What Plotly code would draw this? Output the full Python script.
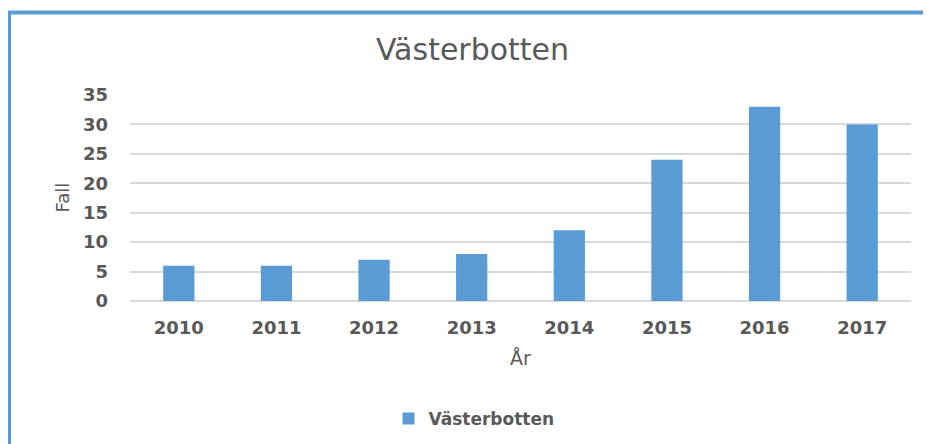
import plotly.graph_objects as go

years = ["2010", "2011", "2012", "2013", "2014", "2015", "2016", "2017"]
fall = [6, 6, 7, 8, 12, 24, 33, 30]
series_name = "Västerbotten"
title_text = "Västerbotten"
y_ticks = [0, 5, 10, 15, 20, 25, 30, 35]

# page body has an 8px margin, so the figure is offset by 8px
OFF = 8
W, H = 931 - OFF, 444 - OFF
L, R, T, B = 122, 20, 87, 143
pw, ph = W - L - R, H - T - B


def px_x(x):  # reference pixel -> paper x
    return (x - OFF - L) / pw


def px_y(y):  # reference pixel -> paper y
    return (H - B - (y - OFF)) / ph


blue = "#5b9bd5"
gray = "#595959"

fig = go.Figure()
fig.add_trace(go.Bar(x=years, y=fall, name=series_name, marker_color=blue,
                     marker_line_width=0))

fig.update_layout(
    width=W, height=H,
    margin=dict(l=L, r=R, t=T, b=B, autoexpand=False),
    paper_bgcolor="white", plot_bgcolor="white",
    bargap=0.68,
    showlegend=True,
    title=dict(text=title_text, x=(472.5 - OFF) / W, xanchor="center",
               y=1 - (49 - OFF) / H, yanchor="middle",
               font=dict(family="DejaVu Sans", size=30, color=gray)),
    legend=dict(orientation="h", x=px_x(474), xanchor="center", y=px_y(419),
                yanchor="middle",
                font=dict(family="DejaVu Sans", size=17, color=gray, weight="bold"),
                itemwidth=30),
    font=dict(family="DejaVu Sans", color=gray),
)

fig.update_yaxes(range=[0, 35], tickvals=y_ticks, showgrid=True, gridcolor="#d9d9d9",
                 gridwidth=2, zeroline=True, zerolinecolor="#d9d9d9", zerolinewidth=2,
                 showline=False, ticklabelstandoff=21,
                 tickfont=dict(family="DejaVu Sans", size=18, color=gray, weight="bold"))
fig.update_xaxes(showgrid=False, showline=False, ticks="", ticklabelstandoff=14,
                 tickfont=dict(family="DejaVu Sans", size=18, color=gray, weight="bold"))

# axis titles
fig.add_annotation(text="Fall", xref="paper", yref="paper", x=px_x(62), y=px_y(197.5),
                   xanchor="center", yanchor="middle", textangle=-90, showarrow=False,
                   font=dict(family="DejaVu Sans", size=18, color=gray))
fig.add_annotation(text="År", xref="paper", yref="paper", x=px_x(520.5), y=px_y(358),
                   xanchor="center", yanchor="middle", showarrow=False,
                   font=dict(family="DejaVu Sans", size=19, color=gray))

# blue border lines (left and top)
fig.add_shape(type="line", xref="paper", yref="paper", x0=px_x(9), x1=px_x(9),
              y0=px_y(11), y1=px_y(460), line=dict(color=blue, width=4))
fig.add_shape(type="line", xref="paper", yref="paper", x0=px_x(7), x1=px_x(960),
              y0=px_y(12.5), y1=px_y(12.5), line=dict(color=blue, width=4))

fig.write_html("out.html")
